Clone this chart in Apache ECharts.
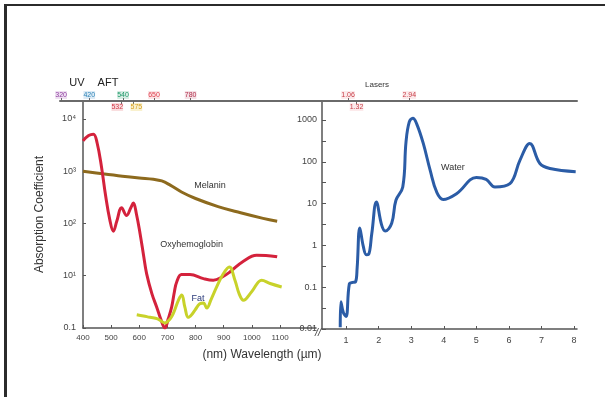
<!DOCTYPE html>
<html>
<head>
<meta charset="utf-8">
<script src="https://cdn.jsdelivr.net/npm/echarts@6/dist/echarts.min.js"></script>
<style>
  html, body { margin: 0; padding: 0; background: #fff; }
  #chart { width: 605px; height: 397px; }
  #frame { position: absolute; left: 4px; top: 4px; width: 601px; height: 393px;
           border-top: 2px solid #2b2b2b; border-left: 3px solid #2b2b2b; pointer-events: none; }
</style>
</head>
<body>
<div id="chart"></div>
<div id="frame"></div>
<script>
// wavelength (nm) / absorption, left panel
const melanin = [[400,1000],[470,890],[540,800],[600,740],[650,700],[680,650],[710,540],[750,400],[800,300],[880,210],[960,160],[1040,125],[1090,110]];
const oxyhemoglobin = [[400,3800],[420,4800],[437,5100],[450,3500],[466,1180],[480,350],[495,120],[508,71],[520,110],[537,200],[555,142],[570,200],[579,245],[590,150],[603,63],[615,25],[626,11],[645,4.5],[662,2.5],[678,1.4],[691,1.0],[703,1.5],[715,2.5],[725,5],[733,7.6],[750,10.5],[780,10.5],[828,8.8],[863,8.2],[895,9.5],[922,11.8],[970,19],[1017,24.6],[1050,24.5],[1090,23]];
const fat = [[591,1.8],[615,1.7],[638,1.6],[665,1.5],[691,1.25],[710,1.5],[721,1.9],[740,3.5],[751,4.3],[762,2.5],[774,1.6],[786,1.8],[798,2.2],[815,2.9],[828,3.0],[840,2.4],[855,3.5],[875,6.1],[899,11],[920,14.7],[940,8.2],[955,4.5],[970,3.4],[1000,5],[1035,8.2],[1065,7.1],[1106,6.1]];

// wavelength (µm) / absorption, right panel
const water = [[0.82,0.011],[0.84,0.045],[0.92,0.024],[1.0,0.02],[1.1,0.12],[1.2,0.13],[1.29,0.135],[1.34,0.3],[1.42,2.6],[1.53,0.93],[1.62,0.6],[1.69,0.61],[1.79,1.95],[1.93,11],[2.09,3.1],[2.2,2.2],[2.4,3.4],[2.53,12],[2.74,25],[2.84,300],[2.94,900],[3.05,1100],[3.17,800],[3.37,275],[3.58,63],[3.78,19],[3.98,12.6],[4.4,17.5],[5.0,42],[5.3,38],[5.57,25],[6.03,30],[6.34,110],[6.64,275],[6.95,91],[7.26,69],[8.05,58]];

// ticks
const nmTicks = [400, 500, 600, 700, 800, 900, 1000, 1100];
const umTicks = [1, 2, 3, 4, 5, 6, 7, 8];
const leftYTicks = [1, 10, 100, 1000, 10000];
const leftYLabels = ['0.1', '10¹', '10²', '10³', '10⁴'];
const rightYTicks = [0.01, 0.1, 1, 10, 100, 1000];
const rightYMinor = [0.0316, 0.316, 3.16, 31.6, 316];

// source wavelengths on top axes
const uvAftAbove = [320, 420, 540, 650, 780];
const uvAftBelow = [532, 575];
const laserAbove = [1.06, 2.94];
const laserBelow = [1.32];

const font = "'Liberation Sans', Arial, sans-serif";
const axisColor = '#555';

const tagRich = {
  c320: { color: '#8e3fa0', backgroundColor: 'rgba(160,80,180,0.18)' },
  c420: { color: '#2f86b8', backgroundColor: 'rgba(60,140,200,0.18)' },
  c540: { color: '#1f9a6a', backgroundColor: 'rgba(40,160,110,0.2)' },
  c650: { color: '#e0404e', backgroundColor: 'rgba(230,70,80,0.15)' },
  c780: { color: '#b2304c', backgroundColor: 'rgba(180,50,80,0.15)' },
  c532: { color: '#d23a48', backgroundColor: 'rgba(220,70,80,0.18)' },
  c575: { color: '#d8a020', backgroundColor: 'rgba(230,200,60,0.25)' },
  laser: { color: '#c8404a', backgroundColor: 'rgba(230,80,90,0.12)' }
};
Object.keys(tagRich).forEach(k => {
  Object.assign(tagRich[k], { fontSize: 7, fontFamily: font, padding: [1, 0, 0, 0] });
});
tagRich.sp = { width: 7, fontSize: 7 };

// the two close tags under the line are nudged apart with a blank spacer
const tagText = (v, key) => {
  const t = '{' + (key || 'c' + v) + '|' + v + '}';
  if (v === 532) return t + '{sp|}';
  if (v === 575) return '{sp|}' + t;
  return t;
};

const tagAxis = (grid, min, max, values, inside, showLine, key) => ({
  type: 'value', gridIndex: grid, position: 'top', min: min, max: max,
  axisLine: { show: showLine, onZero: false, lineStyle: { color: '#6a6a6a', width: 2 } },
  axisTick: { show: true, inside: inside, length: 3, customValues: values, lineStyle: { color: '#666' } },
  axisLabel: {
    inside: inside, margin: 2, customValues: values, rich: tagRich, hideOverlap: false,
    showMinLabel: true, showMaxLabel: true,
    formatter: v => tagText(v, key)
  },
  splitLine: { show: false }
});

const nameLabel = (name, color) => ({
  symbol: 'circle', symbolSize: 0,
  label: { show: true, position: 'inside', formatter: '{b}', color: color, fontSize: 9, fontFamily: font },
  data: [name]
});

const chart = echarts.init(document.getElementById('chart'));

chart.setOption({
  animation: false,
  textStyle: { fontFamily: font },
  grid: [
    { left: 83, top: 101, width: 233, height: 227 },
    { left: 322, top: 101, width: 255, height: 228 },
    { left: 60, top: 101, width: 262, height: 227 }
  ],
  xAxis: [
    {
      type: 'value', gridIndex: 0, min: 400, max: 1228,
      axisLine: { onZero: false, lineStyle: { color: axisColor, width: 1.5 } },
      axisTick: { inside: true, length: 3, customValues: nmTicks },
      axisLabel: { customValues: nmTicks, fontSize: 8, color: '#444', margin: 6, formatter: v => String(v) },
      splitLine: { show: false }
    },
    {
      type: 'value', gridIndex: 1, min: 0.26, max: 8.09,
      axisLine: { onZero: false, lineStyle: { color: axisColor, width: 1.5 } },
      axisTick: { inside: true, length: 3, customValues: umTicks },
      axisLabel: { customValues: umTicks, fontSize: 9, color: '#444', margin: 7 },
      splitLine: { show: false }
    },
    tagAxis(2, 316, 1247, uvAftAbove, false, true),
    tagAxis(2, 316, 1247, uvAftBelow, true, false),
    tagAxis(1, 0.26, 8.09, laserAbove, false, true, 'laser'),
    tagAxis(1, 0.26, 8.09, laserBelow, true, false, 'laser')
  ],
  yAxis: [
    {
      type: 'log', gridIndex: 0, logBase: 10, min: 1, max: 22000,
      name: 'Absorption Coefficient', nameLocation: 'middle', nameGap: 37, nameRotate: 90,
      nameTextStyle: { fontSize: 12, color: '#333', fontFamily: font },
      axisLine: { show: true, onZero: false, lineStyle: { color: axisColor, width: 1.5 } },
      axisTick: { inside: true, length: 3, customValues: leftYTicks },
      axisLabel: {
        customValues: leftYTicks, fontSize: 9, color: '#444', margin: 7,
        formatter: v => leftYLabels[leftYTicks.indexOf(Math.round(v))] || ''
      },
      splitLine: { show: false }
    },
    {
      type: 'log', gridIndex: 1, logBase: 10, min: 0.01, max: 2850,
      axisLine: { show: true, onZero: false, lineStyle: { color: axisColor, width: 1.5 } },
      axisTick: { inside: true, length: 4, customValues: rightYTicks.concat(rightYMinor) },
      axisLabel: {
        customValues: rightYTicks, fontSize: 9, color: '#444', margin: 5,
        formatter: v => String(+v.toPrecision(2))
      },
      splitLine: { show: false }
    },
    { type: 'value', gridIndex: 2, show: false }
  ],
  series: [
    {
      name: 'Melanin', type: 'line', xAxisIndex: 0, yAxisIndex: 0, data: melanin,
      smooth: 0.4, symbol: 'none', lineStyle: { color: '#8d6a1e', width: 3 },
      markPoint: nameLabel({ name: 'Melanin', coord: [851, 527] }, '#333')
    },
    {
      name: 'Oxyhemoglobin', type: 'line', xAxisIndex: 0, yAxisIndex: 0, data: oxyhemoglobin,
      smooth: 0.4, symbol: 'none', lineStyle: { color: '#d4223c', width: 3 },
      markPoint: nameLabel({ name: 'Oxyhemoglobin', coord: [786, 40] }, '#333')
    },
    {
      name: 'Fat', type: 'line', xAxisIndex: 0, yAxisIndex: 0, data: fat,
      smooth: 0.4, symbol: 'none', lineStyle: { color: '#c8d22a', width: 3 },
      markPoint: nameLabel({ name: 'Fat', coord: [809, 3.6] }, '#2a3a7a')
    },
    {
      name: 'Water', type: 'line', xAxisIndex: 1, yAxisIndex: 1, data: water,
      smooth: 0.4, symbol: 'none', lineStyle: { color: '#2b5ca6', width: 3 },
      markPoint: nameLabel({ name: 'Water', coord: [4.28, 75] }, '#333')
    }
  ],
  graphic: [
    { type: 'text', x: 77, y: 83, style: { text: 'UV', font: '11px ' + font, fill: '#222', align: 'center', verticalAlign: 'middle' } },
    { type: 'text', x: 108, y: 83, style: { text: 'AFT', font: '11px ' + font, fill: '#222', align: 'center', verticalAlign: 'middle' } },
    { type: 'text', x: 377, y: 85, style: { text: 'Lasers', font: '8px ' + font, fill: '#333', align: 'center', verticalAlign: 'middle' } },
    { type: 'text', x: 318, y: 333, style: { text: '//', font: 'italic 11px ' + font, fill: '#444', align: 'center', verticalAlign: 'middle' } },
    { type: 'text', x: 262, y: 355, style: { text: '(nm) Wavelength (µm)', font: '12px ' + font, fill: '#333', align: 'center', verticalAlign: 'middle' } }
  ]
});
</script>
</body>
</html>
